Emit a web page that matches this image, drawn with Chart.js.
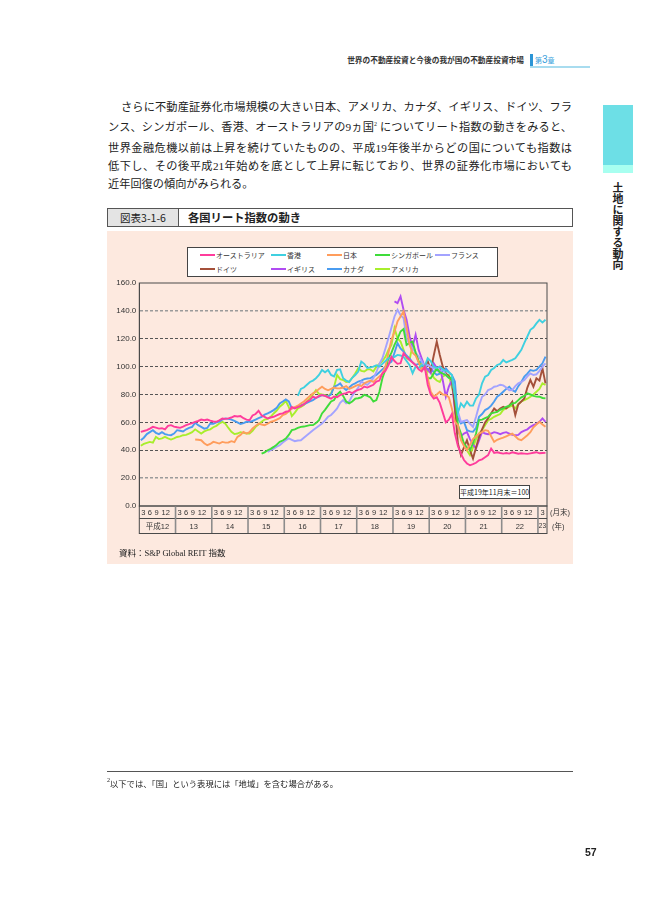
<!DOCTYPE html>
<html lang="ja">
<head>
<meta charset="utf-8">
<title>各国リート指数の動き</title>
<script src="https://cdn.jsdelivr.net/npm/chart.js@4.4.1/dist/chart.umd.min.js"></script>
<style>
html,body{margin:0;padding:0;background:#fff;}
body{width:669px;height:916px;position:relative;overflow:hidden;font-family:"Noto Sans CJK JP","Noto Sans",sans-serif;color:#222;}
.a{position:absolute;}
#hdr{left:300px;top:54px;width:224px;text-align:right;font-size:7.7px;font-weight:bold;color:#333;line-height:12px;white-space:nowrap;}
#hbar{left:530px;top:54px;width:2.5px;height:12.5px;background:#2b95d6;}
#hch{left:535px;top:54px;color:#3a9fdc;font-size:7px;line-height:12px;white-space:nowrap;}
#hch b{font-size:10px;font-weight:normal;font-family:"Liberation Sans",sans-serif;}
#hline{left:530px;top:66px;width:60px;height:1.5px;background:#a8dcef;}
#tab1{left:603px;top:105px;width:30px;height:60px;background:#6ddfe6;}
#tab2{left:603px;top:165px;width:30px;height:8px;background:#a8fff0;}
#tabtxt{left:610px;top:182px;writing-mode:vertical-rl;font-size:11px;font-weight:bold;line-height:16px;color:#222;}
.body{left:108px;width:464px;height:18px;font-family:"Liberation Serif","Noto Sans CJK JP",serif;font-size:11.2px;line-height:18px;color:#222;}
.j{text-align:justify;text-align-last:justify;}
.body sup,.fn sup{font-size:6px;vertical-align:5px;line-height:0;}
#ttl{left:107px;top:208px;width:464px;height:17px;border:1px solid #555;background:#fff;}
#ttlL{position:absolute;left:0;top:0;width:70px;height:17px;background:#e4e4e4;border-right:1px solid #555;font-size:10.5px;line-height:17px;text-align:center;color:#222;}
#ttlR{position:absolute;left:80px;top:0;height:17px;font-size:11.3px;line-height:17px;font-weight:bold;color:#222;white-space:nowrap;}
#panel{left:107px;top:231px;width:466px;height:333px;background:#fde9df;}
#legend{left:187px;top:247px;width:309px;height:28px;border:1px solid #444;background:#fff;}
.li{position:absolute;font-size:7px;line-height:10px;color:#333;white-space:nowrap;}
.li i{display:inline-block;width:15px;height:2px;vertical-align:middle;margin-right:1px;position:relative;top:-1px;}
#note{left:459px;top:485px;width:69px;height:12px;border:1px solid #444;background:#fff;font-size:7px;line-height:12px;text-align:center;color:#222;white-space:nowrap;}
#src{left:119px;top:547px;font-family:"Liberation Serif","Noto Sans CJK JP",serif;font-size:8.5px;line-height:12px;color:#222;white-space:nowrap;}
#fnline{left:107px;top:771px;width:466px;height:1px;background:#555;}
.fn{left:107px;top:779px;font-family:"Liberation Serif","Noto Sans CJK JP",serif;font-size:8.3px;line-height:12px;color:#222;white-space:nowrap;}
#pg{left:585px;top:846px;font-family:"Liberation Sans",sans-serif;font-weight:bold;font-size:10.5px;color:#222;}
canvas{position:absolute;left:0;top:0;}
</style>
</head>
<body>
<div class="a" id="hdr">世界の不動産投資と今後の我が国の不動産投資市場</div>
<div class="a" id="hbar"></div>
<div class="a" id="hch">第<b>3</b>章</div>
<div class="a" id="hline"></div>
<div class="a" id="tab1"></div>
<div class="a" id="tab2"></div>
<div class="a" id="tabtxt">土地に関する動向</div>

<div class="a body j" style="top:98px;text-indent:13px;">さらに不動産証券化市場規模の大きい日本、アメリカ、カナダ、イギリス、ドイツ、フラ</div>
<div class="a body j" style="top:118px;">ンス、シンガポール、香港、オーストラリアの9ヵ国<sup>2</sup> についてリート指数の動きをみると、</div>
<div class="a body j" style="top:138.5px;">世界金融危機以前は上昇を続けていたものの、平成19年後半からどの国についても指数は</div>
<div class="a body j" style="top:157px;">低下し、その後平成21年始めを底として上昇に転じており、世界の証券化市場においても</div>
<div class="a body" style="top:175px;">近年回復の傾向がみられる。</div>

<div class="a" id="ttl"><div id="ttlL">図表3-1-6</div><div id="ttlR">各国リート指数の動き</div></div>
<div class="a" id="panel"></div>
<canvas id="c" width="669" height="916"></canvas>
<div class="a" id="legend"></div>
<div class="a" id="note">平成19年11月末＝100</div>
<div class="a" id="src">資料：S&amp;P Global REIT 指数</div>
<div class="a" id="fnline"></div>
<div class="a fn"><sup>2</sup>以下では、「国」という表現には「地域」を含む場合がある。</div>
<div class="a" id="pg">57</div>

<script>
// ---- data (monthly, month-end; Jan 2000 (H12) .. Mar 2011 (H23)) ----
const years = ['平成12','13','14','15','16','17','18','19','20','21','22','23'];
const monthTicks = ['3','6','9','12'];
const seriesNames = ['オーストラリア','香港','日本','シンガポール','フランス','ドイツ','イギリス','カナダ','アメリカ'];
const N = null;

const australia = [
53.2,53.8,54.4,55.5,56.8,56.2,55.5,55.8,55.0,57.5,58.0,57.0,
56.5,56.1,57.0,58.0,58.8,59.5,60.4,61.0,62.0,61.5,62.0,61.2,
60.6,60.4,61.5,62.8,62.5,62.9,63.5,64.5,64.2,64.5,63.0,62.0,
61.6,65.0,66.0,68.3,65.0,64.0,62.8,63.5,64.0,65.0,66.0,66.5,
67.6,68.0,71.0,70.0,71.0,71.7,73.0,74.8,76.0,78.4,77.5,79.0,
79.6,79.0,78.0,77.0,78.5,78.0,79.6,80.5,81.0,82.0,81.0,82.5,
83.3,84.0,85.7,85.0,86.0,87.0,89.3,90.0,95.3,97.0,101.0,107.0,
104.0,102.0,102.4,109.6,107.0,104.8,103.0,101.0,98.0,96.5,100.0,87.0,
80.0,77.0,78.0,74.0,67.0,60.0,62.0,66.0,52.0,43.0,37.6,33.0,
30.5,29.2,30.0,31.0,32.8,33.5,35.0,36.5,41.2,38.1,38.5,38.0,
37.6,38.0,37.6,38.5,38.0,37.5,37.8,37.6,37.4,37.8,38.2,38.6,
37.8,38.0,38.1];

const hongkong = [
N,N,N,N,N,N,N,N,N,N,N,N,
N,N,N,N,N,N,N,N,N,N,N,N,
N,N,N,N,N,N,N,N,N,N,N,N,
N,N,N,N,N,N,N,N,N,N,N,N,
N,N,N,N,79.0,84.0,85.0,87.0,89.0,90.0,91.7,94.0,
97.6,96.0,97.6,94.0,93.0,97.6,98.0,91.7,90.0,89.0,92.0,94.0,
96.5,103.6,102.0,99.0,99.5,100.0,101.0,100.0,102.0,104.0,106.0,106.0,
107.0,108.4,108.0,107.0,104.0,101.0,95.3,100.0,99.0,101.0,100.0,106.0,
104.0,100.0,99.0,100.0,98.0,97.0,96.0,94.0,79.7,67.0,73.6,71.0,
74.8,72.0,72.0,77.2,80.0,88.0,92.8,94.0,97.6,99.0,101.2,102.0,
104.8,103.0,104.0,104.8,106.0,109.0,112.0,117.0,121.6,126.4,128.0,131.0,
133.6,131.7,133.6];

const japan = [
N,N,N,N,N,N,N,N,N,N,N,N,
N,N,N,N,N,N,47.7,47.5,47.2,45.0,43.6,44.5,
46.0,45.5,44.8,46.0,45.5,45.6,46.5,45.8,49.6,51.0,53.2,52.0,
53.0,55.6,57.5,59.2,58.5,58.0,59.0,60.4,61.0,62.0,63.0,65.2,
66.0,68.0,70.0,71.0,72.0,73.6,75.0,77.0,79.0,80.8,82.0,84.0,
85.6,84.0,83.0,84.0,85.0,84.4,84.5,85.0,86.0,84.0,85.0,86.0,
87.0,86.0,88.0,89.0,90.0,89.0,91.0,93.0,95.0,100.0,110.0,119.2,
125.0,132.4,136.0,139.6,128.0,115.6,110.0,108.0,103.0,98.0,100.0,92.0,
82.0,78.5,80.0,82.0,80.0,79.7,78.0,70.0,60.5,58.0,47.2,43.0,
40.0,44.0,48.0,50.0,52.0,53.0,54.4,54.0,50.0,46.0,47.5,48.4,
49.0,50.0,51.0,52.0,50.0,48.0,47.2,49.0,50.8,53.0,56.5,58.5,
60.4,58.5,56.8];

const singapore = [
N,N,N,N,N,N,N,N,N,N,N,N,
N,N,N,N,N,N,N,N,N,N,N,N,
N,N,N,N,N,N,N,N,N,N,N,N,
N,N,N,N,37.6,38.5,40.0,41.0,42.4,44.0,46.0,47.0,
48.4,51.0,54.4,55.0,56.0,56.8,57.0,57.5,58.0,58.0,59.5,61.6,
66.4,69.0,72.0,75.0,76.0,80.0,82.0,79.0,75.0,73.7,75.0,77.0,
77.3,78.0,79.7,79.0,78.0,74.9,76.0,82.0,91.7,98.0,106.0,110.0,
115.6,120.0,125.2,127.0,115.6,117.0,118.0,110.0,103.6,98.0,100.0,91.7,
91.7,95.0,98.8,96.0,95.0,94.0,92.0,91.7,80.0,58.0,52.0,44.8,
42.0,40.0,45.0,52.0,61.6,62.0,63.0,64.0,66.4,67.0,67.5,69.0,
70.0,71.2,72.0,73.6,74.0,76.0,78.0,79.0,80.8,80.0,79.0,78.5,
78.4,77.5,77.2];

const france = [
N,N,N,N,N,N,N,N,N,N,N,N,
N,N,N,N,N,N,N,N,N,N,N,N,
N,N,N,N,N,N,N,N,N,N,N,N,
N,N,N,N,N,N,38.8,40.0,41.2,42.5,43.6,45.5,
47.2,48.5,47.5,46.5,47.0,47.2,49.0,50.8,52.5,54.4,56.0,57.5,
59.2,61.5,64.0,65.3,67.6,70.0,74.0,76.0,73.7,75.0,79.0,82.0,
85.0,89.3,88.0,86.9,89.0,91.7,96.0,102.0,106.0,113.0,120.4,128.0,
136.0,140.8,137.0,134.8,120.4,116.0,113.2,110.0,107.2,104.0,100.0,101.2,
100.0,98.8,97.0,96.0,98.0,94.0,92.0,91.7,80.0,67.7,60.4,61.0,
61.6,59.0,56.8,64.0,72.0,78.4,80.0,83.2,84.0,85.6,86.0,87.0,
86.5,85.0,83.0,83.2,86.0,88.0,89.0,90.4,93.0,95.2,94.0,94.5,
97.0,100.0,102.4];

const germany = [
N,N,N,N,N,N,N,N,N,N,N,N,
N,N,N,N,N,N,N,N,N,N,N,N,
N,N,N,N,N,N,N,N,N,N,N,N,
N,N,N,N,N,N,N,N,N,N,N,N,
N,N,N,N,N,N,N,N,N,N,N,N,
N,N,N,N,N,N,N,N,N,N,N,N,
N,N,N,N,N,N,N,N,N,N,N,N,
N,N,N,N,N,N,N,N,N,N,100.0,104.0,
97.6,108.0,118.0,108.4,100.0,95.2,93.0,90.4,71.2,44.8,36.5,42.0,
47.2,40.0,34.0,42.0,49.6,55.0,60.0,63.0,66.4,70.0,68.0,70.0,
71.2,70.0,72.0,74.8,65.2,73.0,75.0,77.2,85.0,90.4,85.6,91.6,
90.0,98.8,88.0];

const uk = [
N,N,N,N,N,N,N,N,N,N,N,N,
N,N,N,N,N,N,N,N,N,N,N,N,
N,N,N,N,N,N,N,N,N,N,N,N,
N,N,N,N,N,N,N,N,N,N,N,N,
N,N,N,N,N,N,N,N,N,N,N,N,
N,N,N,N,N,N,N,N,N,N,N,N,
N,N,N,N,N,N,N,N,N,N,N,N,
146.8,145.6,150.4,140.8,133.6,121.6,114.4,122.8,112.0,106.0,100.0,98.0,
95.2,102.4,99.0,100.0,90.0,78.4,85.6,90.4,68.8,54.4,50.0,52.0,
53.0,48.0,44.0,41.2,47.0,53.2,52.0,51.5,52.0,53.0,52.5,51.5,
52.5,53.0,52.0,51.0,50.8,51.0,53.0,54.0,55.0,56.8,58.0,59.0,
60.4,62.8,60.4];

const canada = [
47.2,49.0,51.6,53.0,54.4,52.5,51.6,53.0,51.6,51.0,50.8,52.0,
54.4,54.0,53.5,55.0,56.0,56.8,59.7,58.0,56.8,55.5,56.0,59.2,
59.0,60.0,60.5,62.0,62.8,62.5,62.0,61.0,60.0,58.8,59.5,60.4,
60.4,61.0,62.0,63.0,64.0,65.5,66.4,67.5,68.8,70.5,73.6,75.0,
76.5,75.0,70.0,70.5,71.5,72.4,73.0,74.0,75.0,76.0,77.5,78.5,
79.6,79.0,78.5,80.0,85.6,86.5,88.0,85.0,83.2,85.0,87.0,88.0,
89.3,90.0,91.0,91.5,91.7,93.0,94.0,96.0,98.0,100.0,102.0,103.6,
110.0,116.8,113.0,110.8,108.0,106.0,103.0,101.2,102.0,104.0,100.0,98.0,
98.8,96.0,94.0,95.0,97.0,98.8,96.0,94.0,89.3,62.9,59.2,60.5,
54.4,53.5,53.2,56.0,64.0,66.0,68.8,70.0,72.0,75.0,78.4,80.0,
82.0,84.0,85.6,83.0,82.0,86.0,89.0,92.8,95.0,97.6,97.0,97.6,
100.0,102.4,107.2];

const usa = [
43.2,44.5,45.3,46.0,45.5,49.6,48.0,48.5,49.6,48.5,47.7,48.5,
49.5,50.0,50.8,51.0,52.0,53.0,55.0,53.5,52.0,53.5,54.4,55.0,
56.5,57.5,59.2,60.4,59.0,56.0,53.2,51.6,52.0,53.0,52.5,52.0,
52.0,54.0,56.8,58.5,60.4,62.0,62.5,64.0,66.4,68.5,71.2,73.0,
75.5,71.0,64.5,67.0,70.0,71.0,72.5,75.0,77.2,80.0,83.2,80.5,
80.0,79.6,78.5,81.0,85.6,94.0,91.0,90.4,89.0,89.2,92.0,95.0,
98.8,97.0,96.5,98.0,98.0,96.5,100.0,102.0,104.0,107.0,112.0,115.6,
127.6,120.4,118.0,112.0,106.0,105.0,115.6,110.0,103.6,102.0,100.0,96.5,
96.5,92.0,90.0,89.0,93.0,94.0,94.0,85.0,77.3,54.4,48.5,44.8,
40.0,36.5,42.0,48.0,52.0,54.4,58.0,61.6,62.5,64.0,65.0,66.0,
69.0,70.0,71.2,72.0,70.0,73.0,75.0,76.0,77.0,78.4,80.0,82.0,
84.0,88.0,86.8];

const yTicks = [0,20,40,60,80,100,120,140,160];

// ---- styling (kept separate from data) ----
const seriesColors = ['#ff3c9c','#3fd0e0','#ff9d5c','#3fdc3a','#a3a3ff','#a4503a','#b04cf2','#4a9cf0','#a8ee2c'];
const legendCols = [200, 271, 327, 375, 435];
const legendRows = [250, 264];
const tickFrac = [0.11, 0.29, 0.48, 0.73];

const seriesValues = [australia, hongkong, japan, singapore, france, germany, uk, canada, usa];
const totalMonths = australia.length;

// HTML legend
const lg = document.getElementById('legend');
seriesNames.forEach((n, k) => {
  const d = document.createElement('div');
  d.className = 'li';
  const col = k % 5, row = Math.floor(k / 5);
  d.style.left = (legendCols[col] - 188) + 'px';
  d.style.top = (legendRows[row] - 248) + 'px';
  d.innerHTML = '<i style="background:' + seriesColors[k] + '"></i>' + n;
  lg.appendChild(d);
});

const tablePlugin = {
  id: 'tbl',
  afterDraw(chart) {
    const {ctx, chartArea: ca, scales: {x}} = chart;
    ctx.save();
    ctx.strokeStyle = '#4a4a4a';
    ctx.lineWidth = 1;
    ctx.strokeRect(ca.left, ca.top, ca.right - ca.left, ca.bottom - ca.top);
    const t0 = ca.bottom, r1 = t0 + 12.5, r2 = t0 + 27.5;
    ctx.strokeRect(ca.left, t0, ca.right - ca.left, r2 - t0);
    ctx.beginPath(); ctx.moveTo(ca.left, r1); ctx.lineTo(ca.right, r1); ctx.stroke();
    ctx.strokeStyle = '#8c8c8c';
    ctx.lineWidth = 1.6;
    for (let k = 1; k < years.length; k++) {
      const xx = x.getPixelForValue(12 * k);
      ctx.beginPath(); ctx.moveTo(xx, t0 + 0.5); ctx.lineTo(xx, r2 - 0.5); ctx.stroke();
    }
    const py = x.getPixelForValue(12) - x.getPixelForValue(0);
    ctx.fillStyle = '#333';
    ctx.textBaseline = 'middle';
    ctx.textAlign = 'center';
    const fnt = '"Liberation Sans","Noto Sans CJK JP",sans-serif';
    for (let k = 0; k < years.length; k++) {
      const x0 = x.getPixelForValue(12 * k);
      const x1 = x.getPixelForValue(Math.min(12 * k + 12, totalMonths));
      ctx.font = '7.5px ' + fnt;
      if (x1 - x0 > py * 0.9) {
        monthTicks.forEach((lab, j) => ctx.fillText(lab, x0 + tickFrac[j] * py, (t0 + r1) / 2 + 0.5));
        ctx.fillText(years[k], (x0 + x1) / 2, (r1 + r2) / 2 + 0.5);
      } else {
        ctx.fillText(monthTicks[0], (x0 + x1) / 2, (t0 + r1) / 2 + 0.5);
        ctx.font = '6.5px ' + fnt;
        ctx.fillText(years[k], (x0 + x1) / 2, (r1 + r2) / 2 + 0.5);
      }
    }
    ctx.font = '7.5px ' + fnt;
    ctx.textAlign = 'left';
    ctx.fillText('(月末)', ca.right + 3, (t0 + r1) / 2 + 0.5);
    ctx.fillText('(年)', ca.right + 5, (r1 + r2) / 2 + 0.5);
    ctx.restore();
  }
};

new Chart(document.getElementById('c'), {
  type: 'line',
  data: {
    datasets: seriesNames.map((n, k) => ({
      label: n,
      data: seriesValues[k].map((v, i) => ({x: i + 0.5, y: v})),
      borderColor: seriesColors[k],
      backgroundColor: seriesColors[k],
      borderWidth: 1.9,
      pointRadius: 0,
      tension: 0,
      fill: false,
      spanGaps: false
    }))
  },
  options: {
    responsive: false,
    animation: false,
    devicePixelRatio: 1,
    layout: {padding: {left: 100, top: 283, right: 122, bottom: 410}},
    plugins: {legend: {display: false}, tooltip: {enabled: false}},
    scales: {
      x: {type: 'linear', min: 0, max: totalMonths, display: false},
      y: {
        min: 0, max: 160,
        afterFit: s => { s.width = 39.3; },
        afterBuildTicks: s => { s.ticks = yTicks.map(v => ({value: v})); },
        ticks: {
          callback: v => Number(v).toFixed(1),
          font: {size: 8, family: '"Liberation Sans", sans-serif'},
          color: '#333',
          padding: 3
        },
        grid: {
          drawTicks: false,
          color: c => {
            const v = c.tick && c.tick.value;
            if (v === 0 || v === 160) return 'rgba(0,0,0,0)';
            if (v === 20 || v === 140) return '#9a9a9a';
            return '#555';
          },
          lineWidth: c => {
            const v = c.tick && c.tick.value;
            return (v === 20 || v === 140) ? 1.4 : 1;
          }
        },
        border: {display: true, color: '#4a4a4a', width: 1, dash: [3, 2]}
      }
    }
  },
  plugins: [tablePlugin]
});
</script>
</body>
</html>
